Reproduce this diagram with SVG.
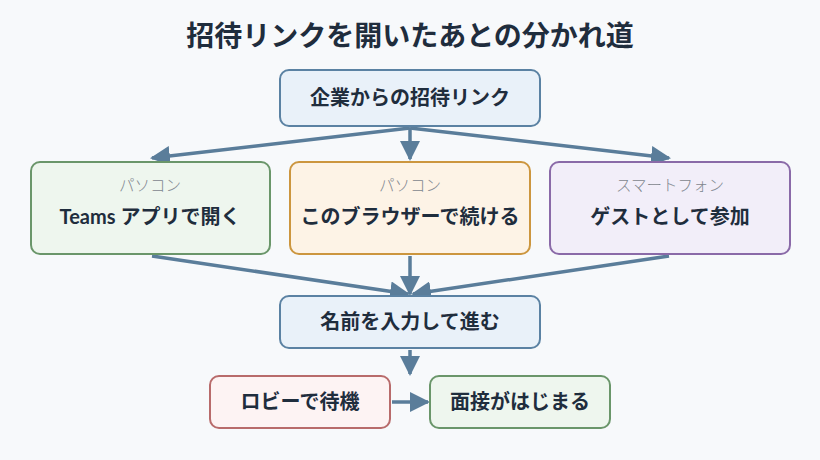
<svg xmlns="http://www.w3.org/2000/svg" width="820" height="460" viewBox="0 0 820 460">
<style>
text{font-family:Lato,"Noto Sans CJK JP",sans-serif;fill:#1f2d3d;text-anchor:middle}
.title{font-size:28px;font-weight:700}
.main{font-size:20px;font-weight:700}
.sub{font-size:15.5px;fill:#7f868e;font-weight:300}
.box{stroke-width:2}
.blue{fill:#e9f1f9;stroke:#5b82a3}
.green{fill:#eef6ee;stroke:#6a966a}
.orange{fill:#fdf3e6;stroke:#cc963f}
.purple{fill:#f2eef9;stroke:#8a6aa8}
.red{fill:#fdf3f3;stroke:#b86b6b}
.conn line{stroke:#5a7d9a;stroke-width:3.5;fill:none;marker-end:url(#ah)}
</style>
<defs>
<marker id="ah" viewBox="0 0 10 10" refX="9" refY="5" markerWidth="20" markerHeight="20" markerUnits="userSpaceOnUse" orient="auto">
<path d="M0,0 L10,5 L0,10 Z" fill="#5a7d9a"/>
</marker>
</defs>
<rect width="820" height="460" fill="#f7f9fb"/>
<text class="title" x="410" y="46">招待リンクを開いたあとの分かれ道</text>
<g class="conn">
<line x1="410" y1="128" x2="152" y2="158"/>
<line x1="410" y1="128" x2="410" y2="159"/>
<line x1="410" y1="128" x2="669" y2="158"/>
<line x1="152" y1="256" x2="408" y2="294"/>
<line x1="410" y1="256" x2="410" y2="294"/>
<line x1="669" y1="256" x2="413" y2="294"/>
<line x1="410" y1="350" x2="410" y2="374"/>
<line x1="392" y1="402" x2="428" y2="402"/>
</g>
<g id="start"><rect class="box blue" x="280" y="70" width="260" height="56" rx="9"/><text class="main" x="410" y="105">企業からの招待リンク</text></g>
<g id="teams"><rect class="box green" x="31" y="162" width="239" height="92" rx="9"/><text class="sub" x="150" y="191">パソコン</text><text class="main" x="150" y="224">Teams アプリで開く</text></g>
<g id="browser"><rect class="box orange" x="290" y="162" width="240" height="92" rx="9"/><text class="sub" x="410" y="191">パソコン</text><text class="main" x="410" y="224">このブラウザーで続ける</text></g>
<g id="guest"><rect class="box purple" x="550" y="162" width="240" height="92" rx="9"/><text class="sub" x="670" y="191">スマートフォン</text><text class="main" x="670" y="224">ゲストとして参加</text></g>
<g id="name"><rect class="box blue" x="280" y="296" width="260" height="52" rx="9"/><text class="main" x="410" y="329">名前を入力して進む</text></g>
<g id="lobby"><rect class="box red" x="210" y="376" width="180" height="52" rx="9"/><text class="main" x="300" y="409">ロビーで待機</text></g>
<g id="interview"><rect class="box green" x="430" y="376" width="180" height="52" rx="9"/><text class="main" x="520" y="409">面接がはじまる</text></g>
</svg>
